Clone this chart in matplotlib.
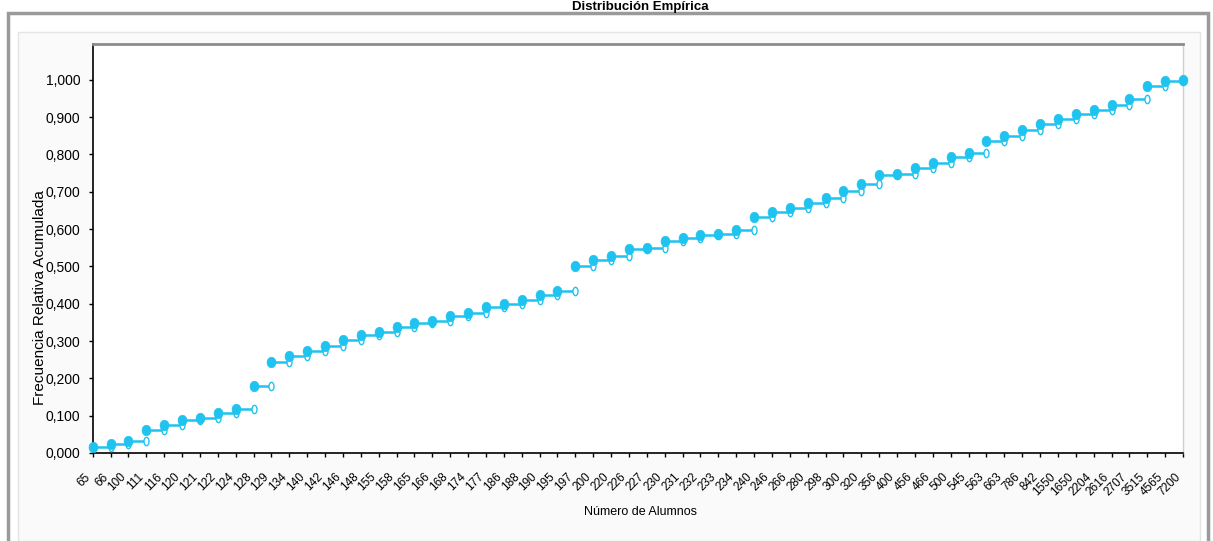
import numpy as np
import matplotlib
matplotlib.use("Agg")
import matplotlib.pyplot as plt
from matplotlib.path import Path
from matplotlib.patches import Rectangle
from matplotlib.ticker import FixedLocator, FuncFormatter
import matplotlib.transforms as mtransforms

W, H = 1213, 541

# alumnos (categorias del eje x)
alumnos = ["65", "66", "100", "111", "116", "120", "121", "122", "124", "128",
           "129", "134", "140", "142", "146", "148", "155", "158", "165", "166",
           "168", "174", "177", "186", "188", "190", "195", "197", "200", "220",
           "226", "227", "230", "231", "232", "233", "234", "240", "246", "266",
           "280", "298", "300", "320", "356", "400", "456", "466", "500", "545",
           "563", "663", "786", "842", "1550", "1650", "2204", "2616", "2707", "3515",
           "4565", "7200"]

# frecuencia relativa acumulada
frec_acum = [0.017, 0.025, 0.032, 0.062, 0.075, 0.088, 0.093, 0.108, 0.117, 0.180,
             0.243, 0.260, 0.274, 0.287, 0.303, 0.315, 0.325, 0.337, 0.349, 0.353,
             0.366, 0.376, 0.390, 0.398, 0.410, 0.423, 0.433, 0.501, 0.517, 0.528,
             0.546, 0.549, 0.567, 0.575, 0.584, 0.588, 0.598, 0.632, 0.647, 0.656,
             0.671, 0.683, 0.701, 0.721, 0.745, 0.748, 0.763, 0.777, 0.793, 0.805,
             0.835, 0.850, 0.866, 0.882, 0.895, 0.908, 0.920, 0.932, 0.948, 0.983,
             0.998, 1.000]

y_ticks = [0.0, 0.1, 0.2, 0.3, 0.4, 0.5, 0.6, 0.7, 0.8, 0.9, 1.0]

CYAN = "#1fc3ef"
NARROW = ["Liberation Sans Narrow", "Liberation Sans", "DejaVu Sans"]
SANS = ["Liberation Sans", "DejaVu Sans"]


def ellipse(rx, ry):
    t = np.linspace(0, 2 * np.pi, 40)
    verts = np.column_stack([rx * np.cos(t), ry * np.sin(t)])
    return Path(verts, closed=True)


fig = plt.figure(figsize=(W / 100, H / 100), dpi=100)
fig.patch.set_facecolor("white")

# marcos exteriores (en pixeles)
fig.patches.append(Rectangle((18 / W, 0), 1182 / W, (H - 32) / H, transform=fig.transFigure,
                             facecolor="#fafafa", edgecolor="#e4e4e4", lw=1, zorder=-3))
fig.patches.append(Rectangle((8 / W, -0.05), 1200 / W, (H - 13) / H + 0.05, transform=fig.transFigure,
                             facecolor="none", edgecolor="#9a9a9a", lw=2.5, zorder=-2))

ax = fig.add_axes([92.7 / W, (H - 453) / H, (1183 - 92.7) / W, (453 - 44) / H])
ax.set_facecolor("white")

x = np.arange(len(alumnos))
v = np.array(frec_acum)

# escalones
ax.hlines(v[:-1], x[:-1], x[1:], color=CYAN, lw=1.8, zorder=3, clip_on=False)
ax.plot(x[1:], v[:-1], ls="none", marker=ellipse(0.6, 1.0), ms=6, mfc="white",
        mec=CYAN, mew=1.0, zorder=4, clip_on=False)
ax.plot(x, v, ls="none", marker=ellipse(0.85, 1.0), ms=7.5, mfc=CYAN,
        mec=CYAN, mew=0.5, zorder=5, clip_on=False)

ax.set_xlim(0, len(alumnos) - 1)
ax.set_ylim(0, 1.096)

ax.xaxis.set_major_locator(FixedLocator(x))
ax.set_xticklabels(alumnos, rotation=45, ha="right", fontsize=8.5, family=NARROW)
off = mtransforms.ScaledTranslation(-5 / 100, 0, fig.dpi_scale_trans)
for lab in ax.get_xticklabels():
    lab.set_transform(lab.get_transform() + off)
ax.yaxis.set_major_locator(FixedLocator(y_ticks))
ax.yaxis.set_major_formatter(FuncFormatter(lambda val, pos: f"{val:.3f}".replace(".", ",")))
for lab in ax.get_yticklabels():
    lab.set_family(NARROW)
    lab.set_fontsize(10)

ax.tick_params(axis="x", direction="out", length=3, width=1, pad=10, color="black")
ax.tick_params(axis="y", direction="out", length=3, width=1, pad=6, color="black")

for s in ["left", "bottom"]:
    ax.spines[s].set_color("black")
    ax.spines[s].set_linewidth(1.2)
ax.spines["top"].set_color("#8c8c8c")
ax.spines["top"].set_linewidth(2)
ax.spines["right"].set_color("#d0d0d0")
ax.spines["right"].set_linewidth(1)

fig.text(640 / W, 1 - 10 / H, "Distribución Empírica", ha="center", va="baseline",
         fontsize=9.5, fontweight="bold", family=SANS)
fig.text(640 / W, 1 - 512 / H, "Número de Alumnos", ha="center", va="center",
         fontsize=9, family=SANS)
fig.text(40 / W, 1 - 298 / H, "Frecuencia Relativa Acumulada", ha="center", va="center",
         rotation=90, fontsize=11, family=SANS)

fig.savefig("out.png", dpi=100)
